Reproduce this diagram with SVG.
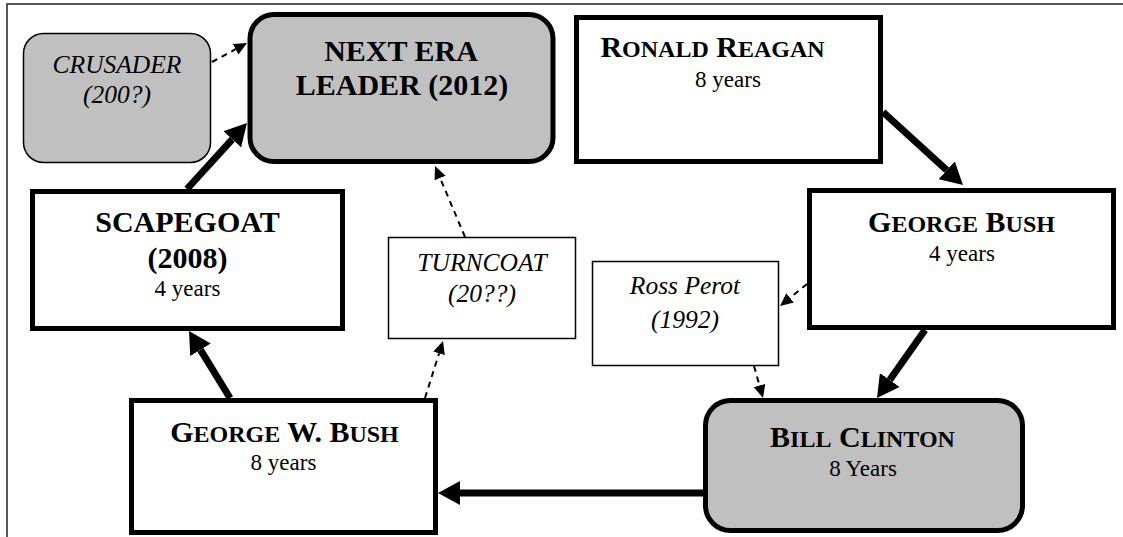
<svg xmlns="http://www.w3.org/2000/svg" width="1123" height="537" viewBox="0 0 1123 537">
<style>
text{font-family:"Liberation Serif","Times New Roman",serif;fill:#000}
.t{font-size:30px;font-weight:bold}
.sc{font-size:24px}
.s{font-size:23px}
.i{font-size:25.5px;font-style:italic}
.thick{fill:#fff;stroke:#000;stroke-width:5}
.thickg{fill:#c0c0c0;stroke:#000;stroke-width:5}
.thin{fill:#fff;stroke:#000;stroke-width:1.5}
.thing{fill:#c0c0c0;stroke:#000;stroke-width:1.5}
.conn{stroke:#000;stroke-width:7;fill:none;marker-end:url(#big)}
.dash{stroke:#000;stroke-width:2;fill:none;stroke-dasharray:6 5;marker-end:url(#small)}
</style>
<defs>
<marker id="big" viewBox="0 -12 22 24" markerWidth="22" markerHeight="24" refX="0" refY="0" orient="auto" markerUnits="userSpaceOnUse"><path d="M0,-12 L22,0 L0,12 z" fill="#000"/></marker>
<marker id="small" viewBox="0 -6 13 12" markerWidth="13" markerHeight="12" refX="0" refY="0" orient="auto" markerUnits="userSpaceOnUse"><path d="M0,-6 L13,0 L0,6 z" fill="#000"/></marker>
</defs>
<rect width="1123" height="537" fill="#fff"/>
<path d="M7,537 V4 H1123" fill="none" stroke="#222" stroke-width="1.5"/>

<g id="connectors">
<line class="conn" x1="883" y1="112" x2="946.7" y2="170.2"/>
<line class="conn" x1="925" y1="330" x2="889.7" y2="380"/>
<line class="conn" x1="703" y1="493" x2="460" y2="493"/>
<line class="conn" x1="230" y1="398" x2="200.5" y2="349.8"/>
<line class="conn" x1="187" y1="189" x2="232.2" y2="139.3"/>
<line class="dash" x1="212" y1="62" x2="235.6" y2="49.2"/>
<line class="dash" x1="465" y1="237" x2="440.1" y2="178"/>
<line class="dash" x1="425" y1="398" x2="439.1" y2="353.4"/>
<line class="dash" x1="807" y1="284" x2="790.1" y2="297.8"/>
<line class="dash" x1="754" y1="366" x2="759.5" y2="385.5"/>
</g>

<g id="crusader">
<rect class="thing" x="23.5" y="33.5" width="187" height="129" rx="20"/>
<text class="i" x="117" y="73" text-anchor="middle">CRUSADER</text>
<text class="i" x="117" y="103" text-anchor="middle">(200?)</text>
</g>

<g id="next-era">
<rect class="thickg" x="250" y="14.5" width="303" height="147" rx="24"/>
<text class="t" x="401" y="61" text-anchor="middle">NEXT ERA</text>
<text class="t" x="402" y="95" text-anchor="middle">LEADER (2012)</text>
</g>

<g id="reagan">
<rect class="thick" x="576.5" y="17.5" width="304" height="144"/>
<text class="t" x="712.5" y="57" text-anchor="middle">R<tspan class="sc">ONALD</tspan> R<tspan class="sc">EAGAN</tspan></text>
<text class="s" x="728" y="87" text-anchor="middle">8 years</text>
</g>

<g id="bush">
<rect class="thick" x="809.5" y="190.5" width="304" height="137"/>
<text class="t" x="961.5" y="232" text-anchor="middle">G<tspan class="sc">EORGE</tspan> B<tspan class="sc">USH</tspan></text>
<text class="s" x="962" y="261" text-anchor="middle">4 years</text>
</g>

<g id="perot">
<rect class="thin" x="592.5" y="261.5" width="186" height="104"/>
<text class="i" x="685" y="294" text-anchor="middle">Ross Perot</text>
<text class="i" x="685" y="328" text-anchor="middle">(1992)</text>
</g>

<g id="turncoat">
<rect class="thin" x="388.5" y="237.5" width="187" height="101"/>
<text class="i" x="482" y="271" text-anchor="middle">TURNCOAT</text>
<text class="i" x="482" y="302" text-anchor="middle">(20??)</text>
</g>

<g id="scapegoat">
<rect class="thick" x="32.5" y="191.5" width="310" height="137"/>
<text class="t" x="187.5" y="232" text-anchor="middle">SCAPEGOAT</text>
<text class="t" x="187.5" y="268" text-anchor="middle">(2008)</text>
<text class="s" x="187.5" y="296" text-anchor="middle">4 years</text>
</g>

<g id="gw-bush">
<rect class="thick" x="131.5" y="400.5" width="304" height="132"/>
<text class="t" x="284.5" y="442" text-anchor="middle">G<tspan class="sc">EORGE</tspan> W. B<tspan class="sc">USH</tspan></text>
<text class="s" x="283.5" y="470" text-anchor="middle">8 years</text>
</g>

<g id="clinton">
<rect class="thickg" x="705.5" y="400.5" width="317" height="130" rx="25"/>
<text class="t" x="862.5" y="447" text-anchor="middle">B<tspan class="sc">ILL</tspan> C<tspan class="sc">LINTON</tspan></text>
<text class="s" x="863" y="476" text-anchor="middle">8 Years</text>
</g>
</svg>
